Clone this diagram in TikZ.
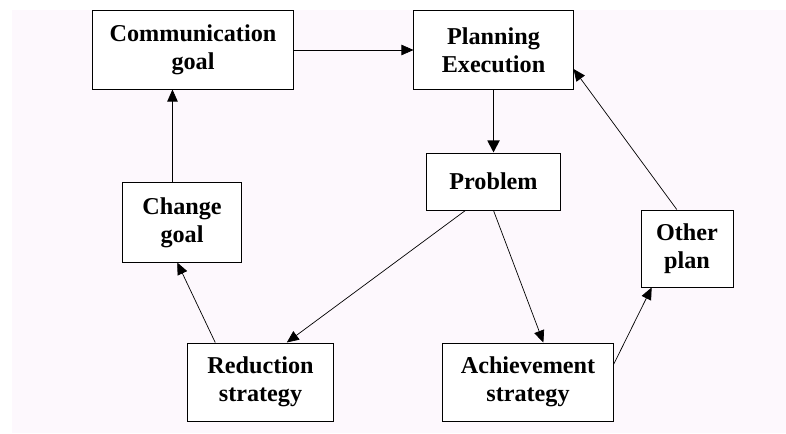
\documentclass[tikz,border=0pt]{standalone}
\usepackage{fontspec}
\setmainfont{Liberation Serif}
\usepackage{tikz}
\usetikzlibrary{arrows}
\usetikzlibrary{arrows.meta}
\usetikzlibrary{calc}
\definecolor{bgpink}{RGB}{253,248,253}

\begin{document}
\begin{tikzpicture}[x=0.025cm,y=-0.025cm,
    box/.style={draw,fill=white,line width=0.7pt,align=center,inner sep=0pt,
      font=\fontsize{17.2pt}{19.6pt}\selectfont\bfseries},
    link/.style={-{Triangle[length=0.3cm,width=0.26cm]},line width=0.5pt},
    biglink/.style={-{Triangle[length=0.3cm,width=0.3cm]},line width=1.3pt}]
    \useasboundingbox (0,0) rectangle (786,433);
    \fill[bgpink] (12,10) rectangle (786,433);
    % boxes
    \node[box,minimum width=5cm,minimum height=1.95cm] (comm) at (193,50) {Communication\\goal};
    \node[box,minimum width=3.975cm,minimum height=1.95cm] (plan) at (493.5,50) {Planning\\Execution};
    \node[box,minimum width=3.325cm,minimum height=1.425cm] (prob) at (493.5,181.5) {Problem};
    \node[box,minimum width=2.95cm,minimum height=1.975cm] (chg) at (182,222.5) {Change\\goal};
    \node[box,minimum width=2.3cm,minimum height=1.925cm] (other) at (687,248.5) {Other\\plan};
    \node[box,minimum width=3.625cm,minimum height=1.95cm] (red) at (260.5,382) {Reduction\\strategy};
    \node[box,minimum width=4.25cm,minimum height=1.95cm] (ach) at (528,382) {Achievement\\strategy};
    % heavier bottom edges
    \foreach \b in {comm,plan,prob,red}
      \draw[line width=1.3pt] (\b.south west) -- (\b.south east);
    % points on the borders
    \coordinate (cgtop) at ($(chg.north west)!0.42!(chg.north east)$);
    \coordinate (cgbot) at ($(chg.south west)!0.46!(chg.south east)$);
    \coordinate (pbl) at ($(prob.south west)!0.29!(prob.south east)$);
    \coordinate (rtr) at ($(red.north west)!0.68!(red.north east)$);
    \coordinate (rtl) at ($(red.north west)!0.19!(red.north east)$);
    \coordinate (atop) at ($(ach.north west)!0.59!(ach.north east)$);
    \coordinate (aright) at ($(ach.north east)!0.28!(ach.south east)$);
    \coordinate (obot) at ($(other.south west)!0.12!(other.south east)$);
    \coordinate (otop) at ($(other.north west)!0.39!(other.north east)$);
    \coordinate (pright) at ($(plan.north east)!0.74!(plan.south east)$);
    % arrows
    \draw[link] (comm.east) -- (plan.west);
    \draw[biglink] (plan.south) -- (prob.north);
    \draw[link] (cgtop) -- (cgtop |- comm.south);
    \draw[link] (pbl) -- (rtr);
    \draw[link] (prob.south) -- (atop);
    \draw[link] (rtl) -- (cgbot);
    \draw[link] (aright) -- (obot);
    \draw[link] (otop) -- (pright);
\end{tikzpicture}
\end{document}
